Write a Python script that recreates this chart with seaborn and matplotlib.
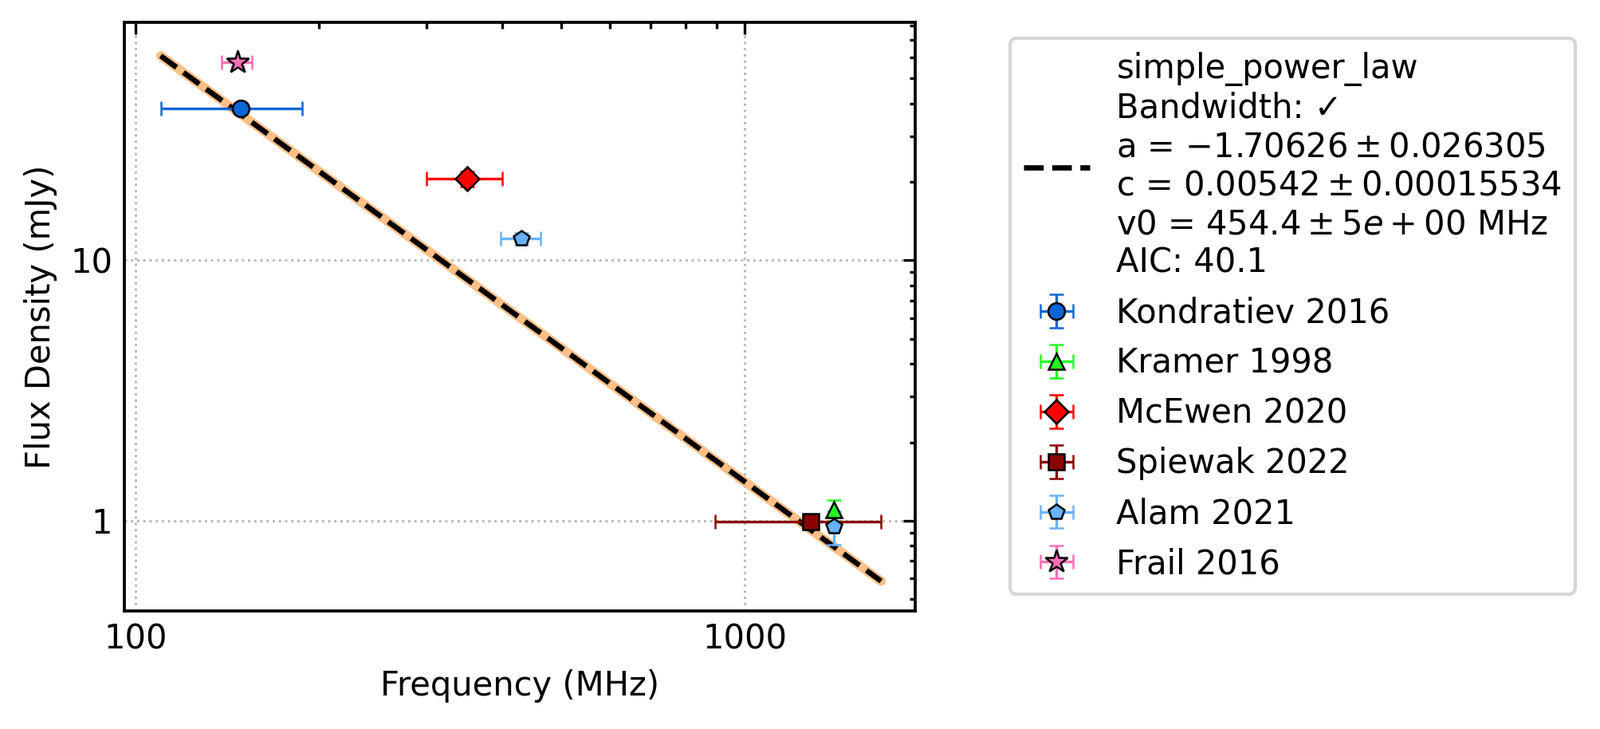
import numpy as np
import pandas as pd
import seaborn as sns
import matplotlib
matplotlib.use("Agg")
import matplotlib.pyplot as plt
from matplotlib.ticker import FormatStrFormatter, NullFormatter
from matplotlib.lines import Line2D

labels = ["Kondratiev 2016", "Kramer 1998", "McEwen 2020", "Spiewak 2022", "Alam 2021", "Frail 2016"]
freqs = [[149.0], [1400.0], [350.0], [1284.0], [430.0, 1400.0], [147.0]]
freq_errs = [[39.0], [0.0], [50.0], [390.0], [32.0, 0.0], [8.5]]
fluxes = [[38.4], [1.1], [20.6], [0.99], [12.1, 0.95], [57.7]]
flux_errs = [[1.5], [0.1], [1.4], [0.03], [0.6, 0.14], [2.0]]
markers = ["o", "^", "D", "s", "p", "*"]
colors = ["#0b66d6", "#22ff22", "#ff0000", "#8b0000", "#66b2ff", "#ff6eb4"]

# fitted simple power law
fit_a = -1.70626
fit_c = 0.00542
fit_v0 = 454.4
fit_label = ("simple_power_law\nBandwidth: \u2713\n"
             "a = $-1.70626 \\pm 0.026305$\n"
             "c = $0.00542 \\pm 0.00015534$\n"
             "v0 = $454.4 \\pm 5e+00$ MHz\n"
             "AIC: 40.1")

sns.set_style("white")
plt.rcParams.update({
    "font.family": ["DejaVu Sans"],
    "font.size": 10,
    "mathtext.fontset": "dejavusans",
    "axes.linewidth": 0.9,
    "axes.edgecolor": "black",
    "text.color": "black",
    "axes.labelcolor": "black",
    "xtick.color": "black",
    "ytick.color": "black",
})

fig = plt.figure(figsize=(2007 / 300, 914 / 300), dpi=300)
ax = fig.add_axes([156 / 2007, 1 - 766 / 914, (1148 - 156) / 2007, (766 - 28) / 914])

all_f = np.concatenate([np.array(f) for f in freqs])
all_fe = np.concatenate([np.array(e) for e in freq_errs])
lo = np.min(all_f - all_fe)
hi = np.max(all_f + all_fe)
nu = np.logspace(np.log10(lo), np.log10(hi), 50)
fit = pd.DataFrame({"freq": nu, "flux": fit_c * 1000 * (nu / fit_v0) ** fit_a})

sns.lineplot(data=fit, x="freq", y="flux", color="#ffbf87", lw=2.8, ax=ax, zorder=2)
sns.lineplot(data=fit, x="freq", y="flux", color="black", lw=1.6, ls="--", ax=ax, zorder=3)

handles = [Line2D([], [], color="black", lw=1.6, ls="--")]
for lab, f, fe, s, se, m, c in zip(labels, freqs, freq_errs, fluxes, flux_errs, markers, colors):
    h = ax.errorbar(f, s, xerr=fe, yerr=se, fmt=m, color=c, ecolor=c, mec="black",
                    mew=0.6, ms=7 if m == "*" else 5, elinewidth=0.8, capsize=2.2,
                    capthick=0.8, zorder=4)
    handles.append(h)

ax.set_xscale("log")
ax.set_yscale("log")
ax.set_xlim(95.9, 1904)
ax.set_ylim(0.45, 82)
ax.xaxis.set_major_formatter(FormatStrFormatter("%g"))
ax.yaxis.set_major_formatter(FormatStrFormatter("%g"))
ax.xaxis.set_minor_formatter(NullFormatter())
ax.yaxis.set_minor_formatter(NullFormatter())
ax.tick_params(which="both", direction="in", top=True, right=True, width=0.8)
ax.tick_params(which="major", length=3.5)
ax.tick_params(which="minor", length=1.8)
ax.grid(True, which="major", ls=":", color="#b8b8b8", lw=0.7)
ax.set_xlabel("Frequency (MHz)")
ax.set_ylabel("Flux Density (mJy)")

fig.legend(handles, [fit_label] + labels, loc="center left",
           bbox_to_anchor=(1267 / 2007, 1 - 396.5 / 914), borderaxespad=0)

fig.savefig("out.png", dpi=300)
